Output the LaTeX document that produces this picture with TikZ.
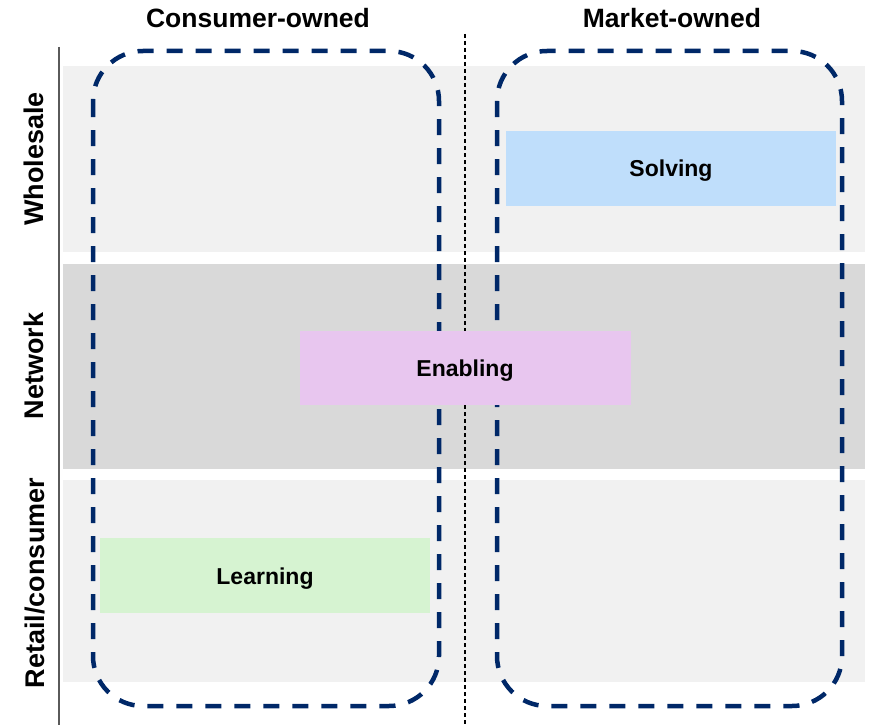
\documentclass[tikz,border=0pt]{standalone}
\usepackage{fontspec}
\setmainfont{Liberation Sans}
\definecolor{navy}{RGB}{0,40,104}
\definecolor{bandlight}{RGB}{241,241,241}
\definecolor{banddark}{RGB}{217,217,217}
\definecolor{solvefill}{RGB}{191,222,251}
\definecolor{enablefill}{RGB}{232,198,239}
\definecolor{learnfill}{RGB}{214,243,209}
\definecolor{axisgray}{RGB}{90,90,90}
\tikzset{
  band/.style={anchor=north west, inner sep=0pt, outer sep=0pt, draw=none},
  rolebox/.style={anchor=north west, inner sep=0pt, outer sep=0pt, draw=none,
    minimum width=330pt, minimum height=74pt},
  boxlabel/.style={anchor=base, inner sep=0pt, font=\bfseries\fontsize{23}{27}\selectfont},
  header/.style={anchor=base, inner sep=0pt, font=\bfseries\fontsize{26.5}{31}\selectfont},
  sidelabel/.style={anchor=base, rotate=90, inner sep=0pt, font=\bfseries\fontsize{27}{31}\selectfont},
  ownergroup/.style={draw=navy, line width=4.5pt, rounded corners=50pt,
    dash pattern=on 16pt off 13pt},
  divider/.style={draw=black, line width=1.1pt, dash pattern=on 4pt off 3pt},
  axisline/.style={draw=axisgray, line width=1.6pt},
}
\begin{document}
\begin{tikzpicture}[x=1pt,y=-1pt]
\useasboundingbox (0,0) rectangle (889,725);
% horizontal bands
\node[band, fill=bandlight, minimum width=802pt, minimum height=186pt] (wholesale) at (63,66) {};
\node[band, fill=banddark, minimum width=802pt, minimum height=205pt] (network) at (63,264) {};
\node[band, fill=bandlight, minimum width=802pt, minimum height=202pt] (retail) at (63,480) {};
% vertical axis and centre divider
\coordinate (axtop) at (59,47);
\coordinate (axbot) at (59,725);
\draw[axisline] (axtop) -- (axbot);
\coordinate (divtop) at (465,34);
\coordinate (divbot) at (465,725);
\draw[divider] (divtop) -- (divbot);
% ownership groups
\draw[ownergroup] (93,51) rectangle (439,706);
\draw[ownergroup] (497,51) rectangle (842,706);
% role boxes
\node[rolebox, fill=solvefill, minimum width=330pt, minimum height=75pt] (solving) at (506,131) {};
\node[rolebox, fill=enablefill, minimum width=331pt, minimum height=74pt] (enabling) at (300,331) {};
\node[rolebox, fill=learnfill, minimum width=330pt, minimum height=75pt] (learning) at (100,538) {};
\node[boxlabel] (solvingtxt) at (671,176) {Solving};
\node[boxlabel] (enablingtxt) at (465,376) {Enabling};
\node[boxlabel] (learningtxt) at (265,584) {Learning};
% column headers
\node[header] (consumer) at (258,28) {Consumer-owned};
\node[header] (market) at (672,28) {Market-owned};
% row labels
\node[sidelabel] (wlab) at (43,159) {Wholesale};
\node[sidelabel] (nlab) at (43,366) {Network};
\node[sidelabel] (rlab) at (44,583) {Retail/consumer};
\end{tikzpicture}
\end{document}
